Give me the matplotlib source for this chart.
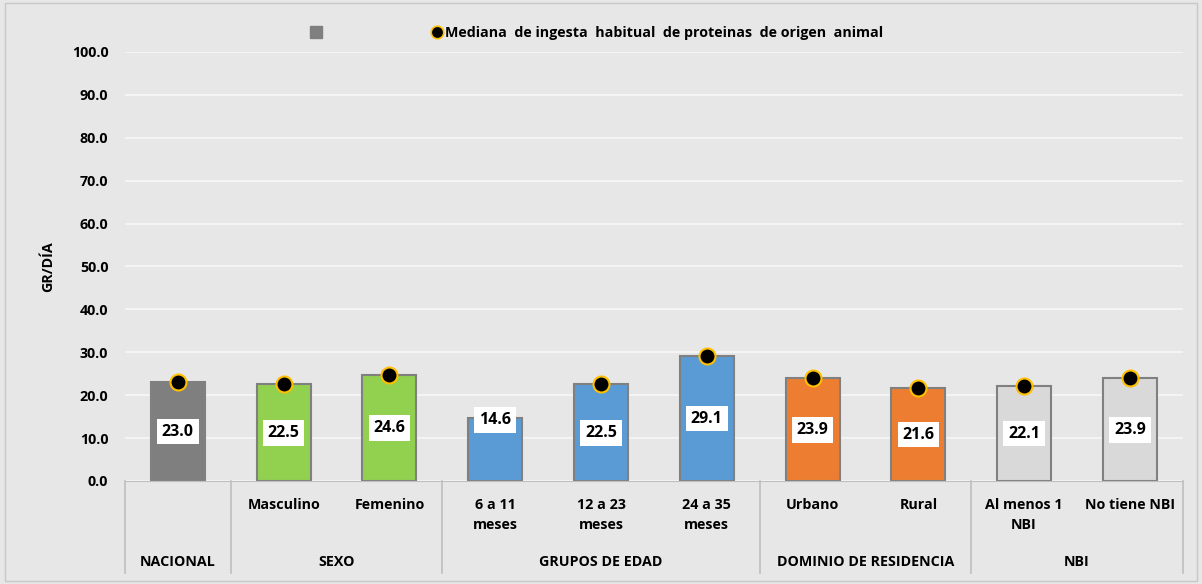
import matplotlib.pyplot as plt
import matplotlib.transforms as mtransforms
from matplotlib.lines import Line2D
from matplotlib.patches import Rectangle

plt.rcParams['font.family'] = ['Open Sans', 'DejaVu Sans']
plt.rcParams['font.weight'] = 'bold'

sub_labels = ['', 'Masculino', 'Femenino', '6 a 11\nmeses', '12 a 23\nmeses', '24 a 35\nmeses',
              'Urbano', 'Rural', 'Al menos 1\nNBI', 'No tiene NBI']
values = [23.0, 22.5, 24.6, 14.6, 22.5, 29.1, 23.9, 21.6, 22.1, 23.9]
groups = ['NACIONAL', 'SEXO', 'GRUPOS DE EDAD', 'DOMINIO DE RESIDENCIA', 'NBI']
group_sizes = [1, 2, 3, 2, 2]
group_colors = ['#7f7f7f', '#92d050', '#5b9bd5', '#ed7d31', '#d9d9d9']
legend_label = 'Mediana  de ingesta  habitual  de proteinas  de origen  animal'

bg = '#e7e7e7'
fs = 10.3
fig = plt.figure(figsize=(12.02, 5.84), dpi=100, facecolor=bg)
ax = fig.add_axes([0.104, 0.1764, 0.880, 0.7346], facecolor=bg)

colors = []
for c, n in zip(group_colors, group_sizes):
    colors += [c] * n

x = list(range(len(values)))
ax.bar(x, values, width=0.51, color=colors, edgecolor='#808080', linewidth=1.5, zorder=2)
ax.plot(x, values, 'o', color='black', markeredgecolor='#ffc000', markeredgewidth=1.5,
        markersize=11.5, zorder=4, label=legend_label)

# value boxes, roughly centred in the bar (raised a bit on the short bar)
for xi, v in zip(x, values):
    y = v / 2 if v > 20 else v - 0.4
    ax.text(xi, y, f'{v:.1f}', ha='center', va='center', fontsize=11.5, fontweight='bold',
            bbox=dict(boxstyle='square,pad=0.3', facecolor='white', edgecolor='none'), zorder=5)

ax.set_xlim(-0.5, len(values) - 0.5)
ax.set_ylim(0, 100)
ax.set_yticks(range(0, 101, 10))
ax.set_yticklabels([f'{t:.1f}' for t in range(0, 101, 10)], fontsize=fs, fontweight='bold')
ax.set_xticks([])
ax.yaxis.grid(True, color='#f7f7f7', linewidth=1.2, zorder=0)
ax.set_axisbelow(True)
for s in ['top', 'right', 'left']:
    ax.spines[s].set_visible(False)
ax.spines['bottom'].set_color('#bfbfbf')
ax.tick_params(axis='y', length=0, pad=12)
ax.set_ylabel('GR/DÍA', fontsize=fs, fontweight='bold', labelpad=12)

# category table below the axis
trans = mtransforms.blended_transform_factory(ax.transData, ax.transAxes)
for xi, lab in zip(x, sub_labels):
    ax.text(xi, -0.04, lab, transform=trans, ha='center', va='top', fontsize=fs,
            fontweight='bold', linespacing=1.55)

edge = -0.5
for g, n in zip(groups, group_sizes):
    ax.plot([edge, edge], [0, -0.214], transform=trans, color='#bfbfbf', linewidth=1.2, clip_on=False)
    ax.text(edge + n / 2, -0.19, g, transform=trans, ha='center', va='center', fontsize=fs,
            fontweight='bold')
    edge += n
ax.plot([edge, edge], [0, -0.214], transform=trans, color='#bfbfbf', linewidth=1.2, clip_on=False)

# legend: unnamed bar series + median markers
handles = [Line2D([], [], marker='s', linestyle='none', color='#7f7f7f', markersize=9),
           Line2D([], [], marker='o', linestyle='none', color='black', markeredgecolor='#ffc000',
                  markeredgewidth=1.2, markersize=9)]
ax.legend(handles, ['', legend_label], ncol=2, loc='center left', bbox_to_anchor=(0.162, 1.045),
          frameon=False, fontsize=fs, columnspacing=7.3, handletextpad=0.1, handlelength=1)

fig.patches.append(Rectangle((0.004, 0.005), 0.992, 0.99, transform=fig.transFigure,
                             fill=False, edgecolor='#c8c8c8', linewidth=1))

fig.savefig('out.png', dpi=100, facecolor=bg)
